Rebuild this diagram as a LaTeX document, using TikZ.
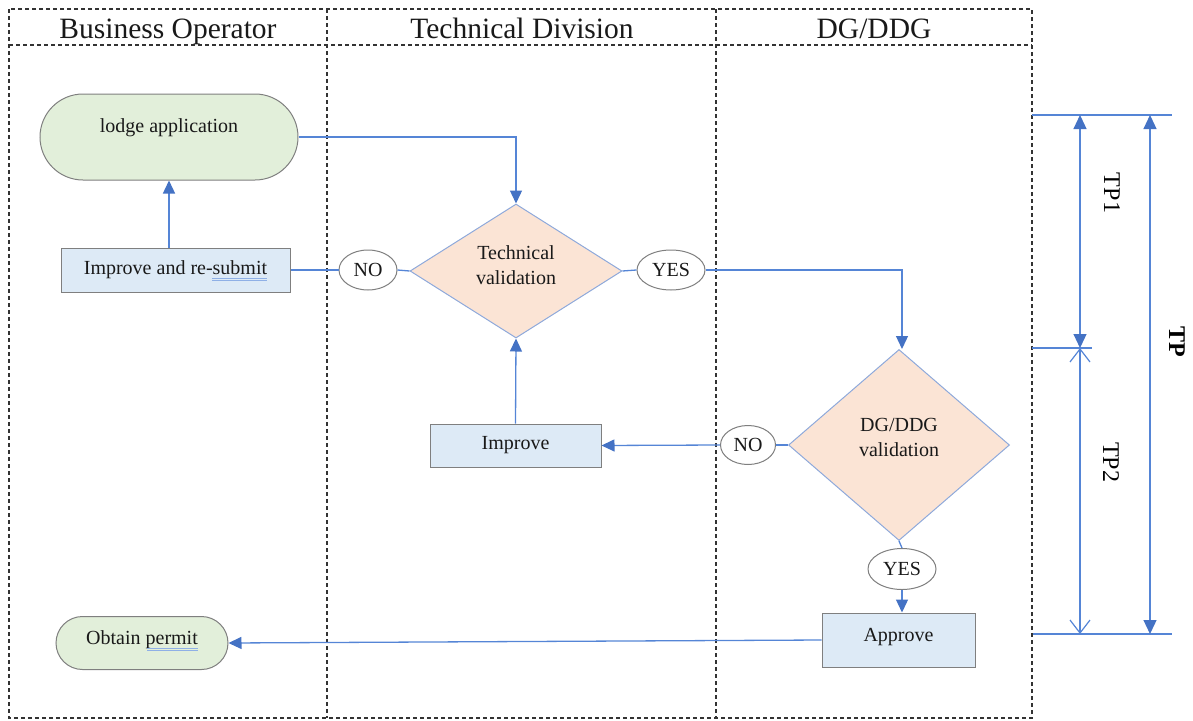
\documentclass[tikz,border=0pt]{standalone}
\usepackage{fontspec}
\setmainfont{Liberation Serif}
\usetikzlibrary{arrows.meta,shapes.geometric}
\definecolor{linkblue}{HTML}{5585D6}
\definecolor{tipblue}{HTML}{4472C4}
\definecolor{greenfill}{HTML}{E2EFDA}
\definecolor{bluefill}{HTML}{DDEAF6}
\definecolor{peachfill}{HTML}{FBE4D5}
\definecolor{edgegray}{HTML}{7F7F7F}
\definecolor{diamondedge}{HTML}{8EA9DB}
\definecolor{squiggle}{HTML}{8FB0E6}

\tikzset{
  lane/.style={draw=black!80, dash pattern=on 4pt off 3pt, line width=1.1pt},
  conn/.style={draw=linkblue, line width=1.3pt},
  arr/.style={conn, -{Triangle[length=13pt,width=12pt,color=tipblue]}},
  body/.style={font=\fontsize{20}{24}\selectfont, text=black!90},
  head/.style={font=\fontsize{29.5}{33}\selectfont, text=black!90, anchor=base},
  stadium/.style={draw=edgegray, line width=1pt, fill=greenfill, inner sep=0pt},
  taskbox/.style={draw=edgegray, line width=1pt, fill=bluefill, inner sep=0pt, rectangle},
  decision/.style={diamond, draw=diamondedge, line width=1pt, fill=peachfill, inner sep=0pt},
  answer/.style={ellipse, draw=edgegray, line width=1pt, fill=white, inner sep=0pt, body},
  dim/.style={draw=linkblue, line width=1.2pt},
  dimtip/.tip={Triangle[length=14pt,width=13pt,color=tipblue]},
  opentip/.tip={Straight Barb[length=13pt,width=20pt,color=linkblue,line width=1.2pt]},
}

\begin{document}
\begin{tikzpicture}[x=1pt,y=-1pt]
\useasboundingbox (0,0) rectangle (1193,720);

% swimlanes
\draw[lane] (9,9) rectangle (1032,718);
\draw[lane] (9,45) -- (1032,45);
\draw[lane] (327,9) -- (327,718);
\draw[lane] (716,9) -- (716,718);
\node[head] (h1) at (168,38) {Business Operator};
\node[head] (h2) at (522,38) {Technical Division};
\node[head] (h3) at (874,38) {DG/DDG};

% shapes
\node[stadium, rounded corners=43pt, minimum width=258pt, minimum height=86pt] (lodge) at (169,137) {};
\node[body] (lodgetext) at (169,128) {lodge application};

\node[taskbox, minimum width=229pt, minimum height=44pt, body] (resub) at (175.5,270) {Improve and re-submit};
\node[answer, minimum width=58pt, minimum height=40pt] (no1) at (368,270) {NO};
\node[decision, minimum width=212pt, minimum height=134pt] (tv) at (516,271) {};
\node[body, align=center, inner sep=0pt] (tvtext) at (516,265) {Technical\\[1pt]validation};
\node[answer, minimum width=68pt, minimum height=40pt] (yes1) at (671,270) {YES};

\node[decision, minimum width=221pt, minimum height=191pt] (dv) at (899,445) {};
\node[body, align=center, inner sep=0pt] (dvtext) at (899,437) {DG/DDG\\[1pt]validation};
\node[answer, minimum width=55pt, minimum height=39pt] (no2) at (748,445) {NO};
\node[taskbox, minimum width=171pt, minimum height=43pt, body] (imp) at (515.5,445.5) {Improve};
\node[answer, minimum width=68pt, minimum height=41pt] (yes2) at (902,569) {YES};
\node[taskbox, minimum width=153pt, minimum height=54pt] (appr) at (898.5,640) {};
\node[body] (apprtext) at (898.5,637) {Approve};

\node[stadium, rounded corners=26.5pt, minimum width=172pt, minimum height=53pt] (permit) at (142,643) {};
\node[body] (permittext) at (142,640) {Obtain permit};

% spelling marks under words
\draw[squiggle, line width=0.6pt] (212,278) -- (267,278) (212,280.5) -- (267,280.5);
\draw[squiggle, line width=0.6pt] (147,648) -- (198,648) (147,650.5) -- (198,650.5);

% connectors
\draw[arr] (lodge.east) -- (lodge.east -| tv.north) -- (tv.north);
\draw[conn] (tv.west) -- (no1.east);
\draw[conn] (no1.west) -- (resub.east);
\draw[arr] (lodge.south |- resub.north) -- (lodge.south);
\draw[conn] (tv.east) -- (yes1.west);
\draw[arr] (yes1.east) -- (yes1.east -| 902,0) -- (902,349);
\draw[conn] (dv.west) -- (no2.east);
\draw[arr] (no2.west) -- (imp.east);
\draw[arr] (imp.north) -- (tv.south);
\draw[conn] (dv.south) -- (yes2.north);
\draw[arr] (yes2.south) -- (yes2.south |- appr.north);
\draw[arr] (appr.west) -- (permit.east);

% time period dimensions
\coordinate (ta) at (1080,115);
\coordinate (tb) at (1080,348);
\coordinate (tc) at (1080,634);
\coordinate (pa) at (1150,115);
\coordinate (pc) at (1150,634);
\draw[dim] (1032,115) -- (1172,115);
\draw[dim] (1032,348) -- (1092,348);
\draw[dim] (1033,634) -- (1172,634);
\draw[dim, dimtip-dimtip] (ta) -- (tb);
\draw[dim, opentip-opentip] (tb) -- (tc);
\draw[dim, dimtip-dimtip] (pa) -- (pc);
\node[rotate=-90, font=\fontsize{24}{28}\selectfont] (tp1) at (1112,193) {TP1};
\node[rotate=-90, font=\fontsize{24}{28}\selectfont] (tp2) at (1111,462) {TP2};
\node[rotate=-90, font=\fontsize{24}{28}\selectfont\bfseries] (tp) at (1177,342) {TP};
\end{tikzpicture}
\end{document}
